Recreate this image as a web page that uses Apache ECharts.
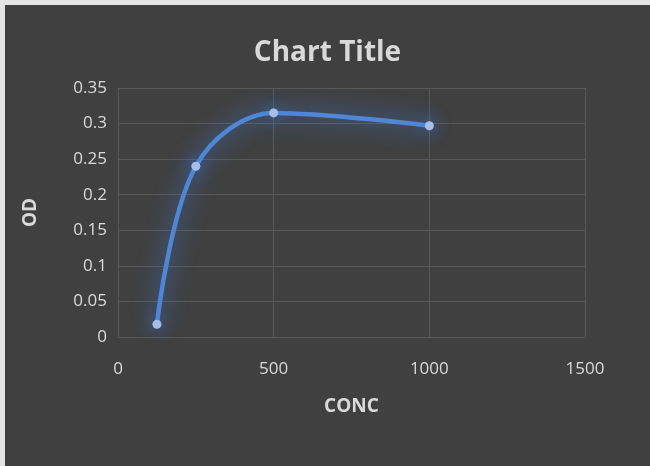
<!DOCTYPE html>
<html>
<head>
<meta charset="utf-8">
<script src="https://cdn.jsdelivr.net/npm/echarts@6/dist/echarts.min.js"></script>
<style>
  html, body { margin: 0; padding: 0; background: #e4e4e4; }
  #chart { position: absolute; left: 5px; top: 5px; width: 645px; height: 461px; background: #404040; }
</style>
</head>
<body>
<div id="chart"></div>
<script>
// Concentration vs optical density
const conc = [125, 250, 500, 1000];
const od = [0.018, 0.24, 0.315, 0.297];
const xTicks = [0, 1500, 500];   // min, max, interval
const yTicks = [0, 0.35, 0.05];

const points = conc.map((c, i) => [c, od[i]]);
const textColor = '#d9d9d9';
const gridColor = '#595959';
const font = 'Open Sans';

const chart = echarts.init(document.getElementById('chart'), null, { renderer: 'canvas' });
chart.setOption({
  backgroundColor: '#404040',
  animation: false,
  title: {
    text: 'Chart Title',
    left: 'center',
    top: 29,
    textStyle: { color: textColor, fontSize: 28, fontWeight: 'bold', fontFamily: font }
  },
  grid: { left: 113, right: 65, top: 83, bottom: 129 },
  xAxis: {
    type: 'value',
    min: xTicks[0], max: xTicks[1], interval: xTicks[2],
    name: 'CONC',
    nameLocation: 'middle',
    nameGap: 60,
    nameTextStyle: { color: textColor, fontSize: 19, fontWeight: 'bold', fontFamily: font },
    axisLine: { show: false },
    axisTick: { show: false },
    axisLabel: { color: textColor, fontSize: 17, margin: 24, fontFamily: font, formatter: v => String(v) },
    splitLine: { show: true, lineStyle: { color: gridColor, width: 1 } }
  },
  yAxis: {
    type: 'value',
    min: yTicks[0], max: yTicks[1], interval: yTicks[2],
    name: 'OD',
    nameLocation: 'middle',
    nameGap: 78,
    nameTextStyle: { color: textColor, fontSize: 19, fontWeight: 'bold', fontFamily: font },
    axisLine: { show: false },
    axisTick: { show: false },
    axisLabel: {
      color: textColor, fontSize: 17, margin: 11, fontFamily: font,
      formatter: v => String(+v.toFixed(2))
    },
    splitLine: { show: true, lineStyle: { color: gridColor, width: 1 } }
  },
  series: [{
    type: 'line',
    data: points,
    smooth: 0.35,
    symbol: 'circle',
    symbolSize: 9,
    lineStyle: {
      color: '#4f86d6', width: 4.5,
      shadowColor: 'rgba(60,125,235,1)', shadowBlur: 22
    },
    itemStyle: {
      color: '#a4c0ea', borderWidth: 0,
      shadowColor: 'rgba(60,125,235,1)', shadowBlur: 16
    }
  }]
});
</script>
</body>
</html>
